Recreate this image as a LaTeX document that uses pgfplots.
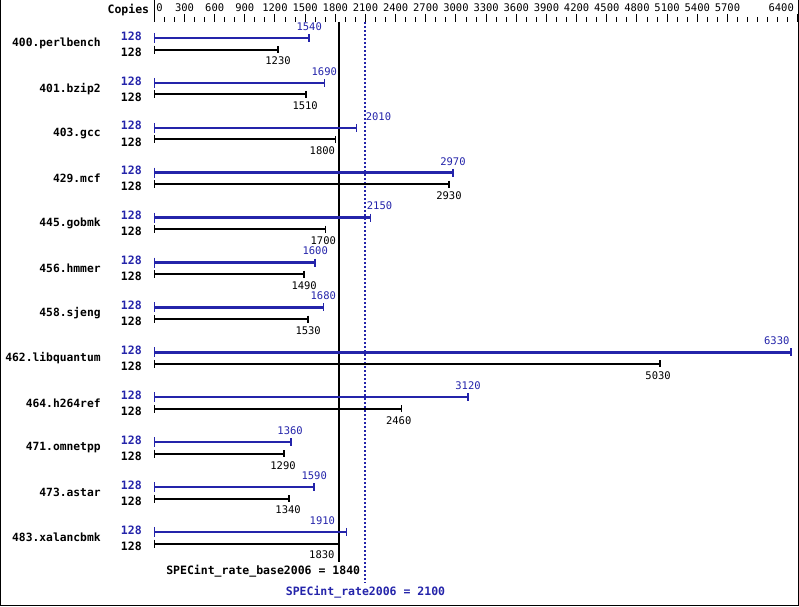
\documentclass[border=0pt]{standalone}
\usepackage{pgfplots}
\pgfplotsset{compat=1.18}
\usepackage{pgfplotstable}
\usepackage{fontspec}
\setmainfont{DejaVu Sans Mono}
\definecolor{specblue}{RGB}{36,36,170}

% h = vertical position (pixels from bottom of the picture)
\pgfplotstableread{
h z val dx
568.0 0 1540 0
523.1 0 1690 0
478.2 0 2010 22
433.3 0 2970 0
388.4 0 2150 9
343.5 0 1600 0
298.6 0 1680 0
253.7 0 6330 -14
208.8 0 3120 0
163.9 0 1360 -1
119.0 0 1590 0
74.1 0 1910 -24
}\peak

\pgfplotstableread{
h z val dx
556.4 0 1230 0
511.5 0 1510 -1
466.6 0 1800 -13
421.7 0 2930 0
376.8 0 1700 -2
331.9 0 1490 0
287.0 0 1530 0
242.1 0 5030 -2
197.2 0 2460 -3
152.3 0 1290 -1
107.4 0 1340 -1
62.5 0 1830 -16.5
}\base

\begin{document}
\begin{tikzpicture}[x=1pt,y=1pt]
\useasboundingbox (0,0) rectangle (799,606);
\draw[black, line width=1pt] (0.5,606) -- (0.5,0.5) -- (798.5,0.5) -- (798.5,606);
\begin{axis}[
  at={(153.5,0)}, anchor=south west,
  scale only axis, width=643.5pt, height=584pt,
  xmin=0, xmax=6400, ymin=0, ymax=584,
  clip=false,
  axis x line*=top, axis y line=none,
  axis line style={draw=none},
  xtick align=outside,
  xtick={0,300,600,900,1200,1500,1800,2100,2400,2700,3000,3300,3600,3900,4200,4500,4800,5100,5400,5700,6400},
  xticklabels={\rlap{\hspace{2pt}0},300,600,900,1200,1500,1800,2100,2400,2700,3000,3300,3600,3900,4200,4500,4800,5100,5400,5700,\llap{6400\hspace{4pt}}},
  minor xtick={100,200,400,500,700,800,1000,1100,1300,1400,1600,1700,1900,2000,2200,2300,2500,2600,2800,2900,3100,3200,3400,3500,3700,3800,4000,4100,4300,4400,4600,4700,4900,5000,5200,5300,5500,5600,5800,5900,6000,6100,6200,6300},
  major tick length=8pt, minor tick length=5pt,
  tick style={black, line width=1pt},
  xticklabel style={font=\fontsize{10.5}{10.5}\selectfont, anchor=south, inner sep=0pt, yshift=2.5pt},
]
% reference lines
\addplot[black, line width=2pt] coordinates {(1840,584) (1840,44)};
\addplot[specblue, line width=2pt, dash pattern=on 2pt off 2pt] coordinates {(2100,584) (2100,23)};
\addplot[black, line width=1pt] coordinates {(0,606) (0,584)};

% peak bars
\addplot[specblue, line width=2.5pt, xcomb, mark=|, mark size=4pt,
  mark options={line width=1.5pt, solid},
  point meta=explicit symbolic,
  visualization depends on={\thisrow{dx} \as \dx},
  nodes near coords={\pgfplotspointmeta},
  every node near coord/.append style={anchor=center, text=specblue, inner sep=0pt,
     font=\fontsize{10.5}{10.5}\selectfont, xshift=\dx pt, yshift=11.5pt}]
  table[x=val, y=h, meta=val]{\peak};
% base bars
\addplot[black, line width=2pt, xcomb, mark=|, mark size=3.5pt,
  mark options={line width=1.5pt, solid},
  point meta=explicit symbolic,
  visualization depends on={\thisrow{dx} \as \dx},
  nodes near coords={\pgfplotspointmeta},
  every node near coord/.append style={anchor=center, text=black, inner sep=0pt,
     font=\fontsize{10.5}{10.5}\selectfont, xshift=\dx pt, yshift=-11.5pt}]
  table[x=val, y=h, meta=val]{\base};

% start ticks with copies labels
\addplot[specblue, only marks, mark=|, mark size=5pt, mark options={line width=1.2pt},
  nodes near coords={\textbf{128}},
  every node near coord/.append style={anchor=east, text=specblue, inner sep=0pt,
     font=\fontsize{11.5}{11.5}\selectfont\bfseries, xshift=-12pt, yshift=2pt}]
  table[x=z, y=h]{\peak};
\addplot[black, only marks, mark=|, mark size=4pt, mark options={line width=1.2pt},
  nodes near coords={\textbf{128}},
  every node near coord/.append style={anchor=east, text=black, inner sep=0pt,
     font=\fontsize{11.5}{11.5}\selectfont\bfseries, xshift=-12pt, yshift=-2.5pt}]
  table[x=z, y=h]{\base};

% benchmark names
\begin{scope}[every node/.style={anchor=east, inner sep=0pt, font=\fontsize{11.3}{11.3}\selectfont\bfseries, xshift=-53.5pt}]
\node at (axis cs:0,562.2) {400.perlbench};
\node at (axis cs:0,517.3) {401.bzip2};
\node at (axis cs:0,472.4) {403.gcc};
\node at (axis cs:0,427.5) {429.mcf};
\node at (axis cs:0,382.6) {445.gobmk};
\node at (axis cs:0,337.7) {456.hmmer};
\node at (axis cs:0,292.8) {458.sjeng};
\node at (axis cs:0,247.9) {462.libquantum};
\node at (axis cs:0,203.0) {464.h264ref};
\node at (axis cs:0,158.1) {471.omnetpp};
\node at (axis cs:0,113.2) {473.astar};
\node at (axis cs:0,68.3) {483.xalancbmk};
\end{scope}
\node[anchor=east, inner sep=0pt, font=\fontsize{11.5}{11.5}\selectfont\bfseries, xshift=-5pt] at (axis cs:0,596) {Copies};
\node[anchor=east, inner sep=0pt, font=\fontsize{11.5}{11.5}\selectfont\bfseries, xshift=21pt] at (axis cs:1840,35) {SPECint\_rate\_base2006 = 1840};
\node[anchor=center, inner sep=0pt, text=specblue, font=\fontsize{11.5}{11.5}\selectfont\bfseries] at (axis cs:2100,14) {SPECint\_rate2006 = 2100};
\end{axis}
\end{tikzpicture}
\end{document}
